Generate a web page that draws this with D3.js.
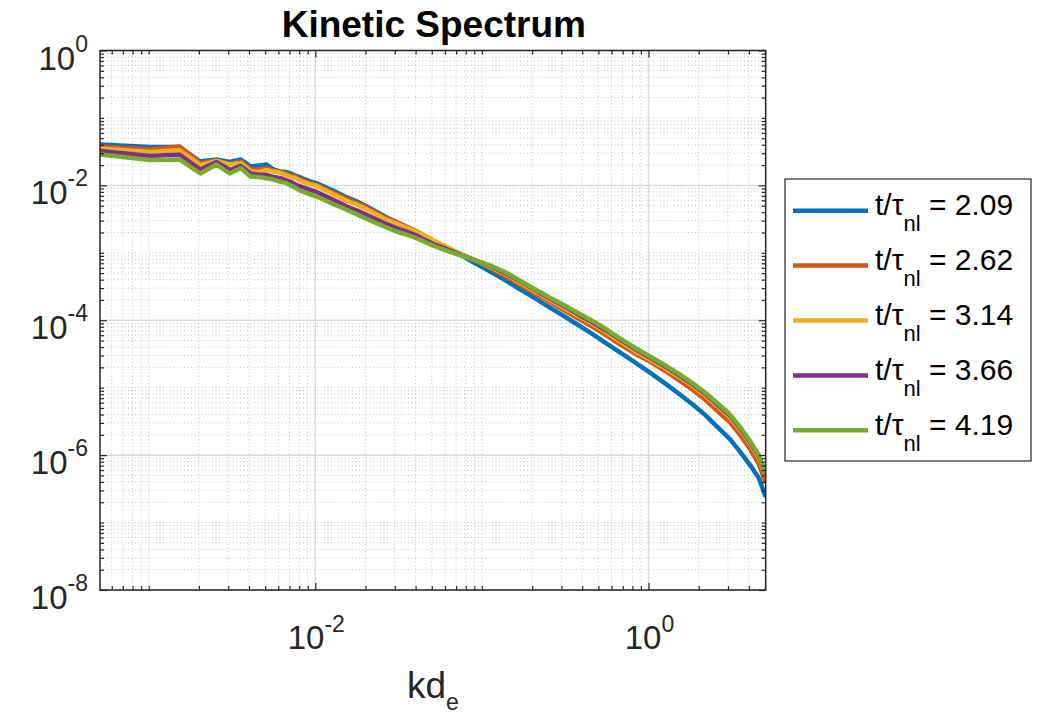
<!DOCTYPE html>
<html>
<head>
<meta charset="utf-8">
<script src="https://cdn.jsdelivr.net/npm/d3@7"></script>
<style>
  body { margin: 0; background: #fff; }
  text { font-family: "Liberation Sans", Arial, Helvetica, sans-serif; fill: #262626; }
</style>
</head>
<body>
<div id="chart"></div>
<script>
// wavenumber k d_e (k = n * kmin)
const k = [0.00051, 0.00102, 0.00153, 0.00204, 0.00255, 0.00306, 0.00357, 0.00408, 0.00459, 0.0051,
  0.00561, 0.00612, 0.00663, 0.00714, 0.00765, 0.00816, 0.00918, 0.0102, 0.01275, 0.0153,
  0.01785, 0.0204, 0.0255, 0.0306, 0.0357, 0.0408, 0.051, 0.0612, 0.0765, 0.0918,
  0.1122, 0.1377, 0.1683, 0.204, 0.255, 0.306, 0.3825, 0.459, 0.561, 0.6885,
  0.8415, 1.02, 1.275, 1.53, 1.836, 2.193, 2.55, 3.06, 3.57, 4.08, 4.59, 5.049]

// kinetic energy spectra, one per time
const E_209 = [0.0404, 0.0371, 0.0371, 0.0226, 0.0242, 0.0222, 0.0242, 0.0191, 0.0197, 0.0204,
  0.0172, 0.0161, 0.0158, 0.0150, 0.0138, 0.0131, 0.0116, 0.0107, 8.40e-3, 6.72e-3,
  5.77e-3, 4.86e-3, 3.58e-3, 2.86e-3, 2.37e-3, 2.04e-3, 1.50e-3, 1.18e-3, 8.97e-4, 6.94e-4,
  5.28e-4, 3.95e-4, 2.91e-4, 2.18e-4, 1.55e-4, 1.18e-4, 8.36e-5, 6.26e-5, 4.52e-5, 3.24e-5,
  2.32e-5, 1.67e-5, 1.13e-5, 8.04e-6, 5.67e-6, 3.92e-6, 2.72e-6, 1.76e-6, 1.10e-6, 7.07e-7, 4.58e-7, 2.39e-7]
const E_262 = [0.0377, 0.0340, 0.0377, 0.0215, 0.0234, 0.0207, 0.0226, 0.0175, 0.0172, 0.0181,
  0.0166, 0.0158, 0.0150, 0.0140, 0.0133, 0.0122, 0.0110, 0.0101, 7.84e-3, 6.39e-3,
  5.48e-3, 4.70e-3, 3.46e-3, 2.86e-3, 2.41e-3, 2.07e-3, 1.52e-3, 1.22e-3, 9.28e-4, 7.69e-4,
  5.96e-4, 4.53e-4, 3.39e-4, 2.58e-4, 1.87e-4, 1.44e-4, 1.04e-4, 8.08e-5, 5.94e-5, 4.25e-5,
  3.14e-5, 2.44e-5, 1.73e-5, 1.28e-5, 9.34e-6, 6.61e-6, 4.70e-6, 3.13e-6, 1.94e-6, 1.22e-6, 7.39e-7, 3.86e-7]
const E_314 = [0.0352, 0.0313, 0.0335, 0.0200, 0.0230, 0.0204, 0.0215, 0.0163, 0.0158, 0.0169,
  0.0161, 0.0155, 0.0143, 0.0133, 0.0127, 0.0116, 0.0105, 9.79e-3, 7.45e-3, 5.97e-3,
  5.12e-3, 4.39e-3, 3.28e-3, 2.72e-3, 2.33e-3, 2.04e-3, 1.52e-3, 1.22e-3, 9.28e-4, 7.69e-4,
  6.16e-4, 4.85e-4, 3.63e-4, 2.76e-4, 2.00e-4, 1.55e-4, 1.14e-4, 8.95e-5, 6.58e-5, 4.71e-5,
  3.44e-5, 2.62e-5, 1.91e-5, 1.43e-5, 1.06e-5, 7.61e-6, 5.48e-6, 3.70e-6, 2.30e-6, 1.45e-6, 9.07e-7, 4.74e-7]
const E_366 = [0.0323, 0.0273, 0.0287, 0.0172, 0.0222, 0.0169, 0.0194, 0.0150, 0.0145, 0.0143,
  0.0133, 0.0129, 0.0120, 0.0112, 0.0103, 9.63e-3, 8.69e-3, 7.98e-3, 6.17e-3, 4.95e-3,
  4.24e-3, 3.64e-3, 2.82e-3, 2.33e-3, 2.04e-3, 1.78e-3, 1.35e-3, 1.14e-3, 9.13e-4, 7.69e-4,
  6.38e-4, 5.02e-4, 3.82e-4, 2.91e-4, 2.10e-4, 1.66e-4, 1.20e-4, 9.42e-5, 7.00e-5, 5.01e-5,
  3.66e-5, 2.79e-5, 2.03e-5, 1.52e-5, 1.13e-5, 8.09e-6, 5.83e-6, 3.94e-6, 2.45e-6, 1.54e-6, 9.65e-7, 5.08e-7]
const E_419 = [0.0287, 0.0238, 0.0242, 0.0150, 0.0204, 0.0150, 0.0181, 0.0135, 0.0133, 0.0127,
  0.0122, 0.0114, 0.0109, 9.96e-3, 9.14e-3, 8.26e-3, 7.45e-3, 6.84e-3, 5.30e-3, 4.39e-3,
  3.70e-3, 3.17e-3, 2.50e-3, 2.07e-3, 1.84e-3, 1.63e-3, 1.28e-3, 1.08e-3, 8.97e-4, 7.69e-4,
  6.49e-4, 5.20e-4, 3.89e-4, 2.96e-4, 2.18e-4, 1.71e-4, 1.26e-4, 9.85e-5, 7.29e-5, 5.22e-5,
  3.81e-5, 2.90e-5, 2.11e-5, 1.59e-5, 1.17e-5, 8.43e-6, 6.07e-6, 4.10e-6, 2.55e-6, 1.60e-6, 1.00e-6, 5.25e-7]

const timeLabels = ['2.09', '2.62', '3.14', '3.66', '4.19']
const seriesE = [E_209, E_262, E_314, E_366, E_419]
const colors = ['#0072BD', '#D95319', '#EDB120', '#7E2F8E', '#77AC30']

const xDomain = [5.1e-4, 5.05]
const yDomain = [1e-8, 1]
const xTicks = [1e-2, 1e0]
const xTickExp = ['-2', '0']
const yTicks = [1e0, 1e-2, 1e-4, 1e-6, 1e-8]
const yTickExp = ['0', '-2', '-4', '-6', '-8']

const W = 1038, H = 718
const plot = { left: 100, right: 765.7, top: 50.5, bottom: 590 }

const svg = d3.select('#chart').append('svg')
    .attr('width', W)
    .attr('height', H)
svg.append('rect').attr('width', W).attr('height', H).attr('fill', '#fff')

const x = d3.scaleLog().domain(xDomain).range([plot.left, plot.right])
const y = d3.scaleLog().domain(yDomain).range([plot.bottom, plot.top])

const isMajor = (list, t) => list.some(m => Math.abs(Math.log10(m / t)) < 1e-6)
const minorX = x.ticks().filter(t => !isMajor(xTicks, t))
const minorY = y.ticks().filter(t => !isMajor(yTicks, t))

// grid
const grid = svg.append('g')
grid.selectAll('.gxm').data(minorX).enter().append('line')
    .attr('x1', d => x(d)).attr('x2', d => x(d))
    .attr('y1', plot.top).attr('y2', plot.bottom)
    .attr('stroke', '#c4c4c4').attr('stroke-width', 1).attr('stroke-dasharray', '1,2.5')
grid.selectAll('.gym').data(minorY).enter().append('line')
    .attr('x1', plot.left).attr('x2', plot.right)
    .attr('y1', d => y(d)).attr('y2', d => y(d))
    .attr('stroke', '#c4c4c4').attr('stroke-width', 1).attr('stroke-dasharray', '1,2.5')
grid.selectAll('.gx').data(xTicks).enter().append('line')
    .attr('x1', d => x(d)).attr('x2', d => x(d))
    .attr('y1', plot.top).attr('y2', plot.bottom)
    .attr('stroke', '#dcdcdc').attr('stroke-width', 1.5)
grid.selectAll('.gy').data(yTicks).enter().append('line')
    .attr('x1', plot.left).attr('x2', plot.right)
    .attr('y1', d => y(d)).attr('y2', d => y(d))
    .attr('stroke', '#dcdcdc').attr('stroke-width', 1.5)

// spectra
svg.append('clipPath').attr('id', 'clip')
    .append('rect')
    .attr('x', plot.left).attr('y', plot.top)
    .attr('width', plot.right - plot.left).attr('height', plot.bottom - plot.top)

const line = d3.line()
    .x((d, i) => x(k[i]))
    .y(d => y(d))

svg.append('g').attr('clip-path', 'url(#clip)')
    .selectAll('path')
    .data(seriesE).enter()
    .append('path')
    .attr('d', line)
    .attr('fill', 'none')
    .attr('stroke', (d, i) => colors[i])
    .attr('stroke-width', 4.5)
    .attr('stroke-linejoin', 'round')

// ticks, inward on all four sides
const tickStyle = g => {
    g.select('.domain').remove()
    g.selectAll('line').attr('stroke', '#262626').attr('stroke-width', 1.2)
}
svg.append('g').attr('transform', `translate(0,${plot.bottom})`)
    .call(d3.axisBottom(x).tickValues(xTicks).tickSize(-7).tickFormat(''))
    .call(tickStyle)
svg.append('g').attr('transform', `translate(0,${plot.bottom})`)
    .call(d3.axisBottom(x).tickValues(minorX).tickSize(-4).tickFormat(''))
    .call(tickStyle)
svg.append('g').attr('transform', `translate(0,${plot.top})`)
    .call(d3.axisTop(x).tickValues(xTicks).tickSize(-7).tickFormat(''))
    .call(tickStyle)
svg.append('g').attr('transform', `translate(0,${plot.top})`)
    .call(d3.axisTop(x).tickValues(minorX).tickSize(-4).tickFormat(''))
    .call(tickStyle)
svg.append('g').attr('transform', `translate(${plot.left},0)`)
    .call(d3.axisLeft(y).tickValues(yTicks).tickSize(-7).tickFormat(''))
    .call(tickStyle)
svg.append('g').attr('transform', `translate(${plot.left},0)`)
    .call(d3.axisLeft(y).tickValues(minorY).tickSize(-4).tickFormat(''))
    .call(tickStyle)
svg.append('g').attr('transform', `translate(${plot.right},0)`)
    .call(d3.axisRight(y).tickValues(yTicks).tickSize(-7).tickFormat(''))
    .call(tickStyle)
svg.append('g').attr('transform', `translate(${plot.right},0)`)
    .call(d3.axisRight(y).tickValues(minorY).tickSize(-4).tickFormat(''))
    .call(tickStyle)

// box
svg.append('rect')
    .attr('x', plot.left).attr('y', plot.top)
    .attr('width', plot.right - plot.left).attr('height', plot.bottom - plot.top)
    .attr('fill', 'none').attr('stroke', '#262626').attr('stroke-width', 1.5)

// tick labels 10^n
const yl = svg.append('g').selectAll('text').data(yTicks).enter().append('text')
    .attr('x', 88).attr('y', d => y(d) + 19)
    .attr('text-anchor', 'end')
    .style('font-size', '33px')
yl.append('tspan').text('10')
yl.append('tspan').attr('dy', -18).style('font-size', '23px').text((d, i) => yTickExp[i])

const xl = svg.append('g').selectAll('text').data(xTicks).enter().append('text')
    .attr('x', d => x(d) + 1).attr('y', 649)
    .attr('text-anchor', 'middle')
    .style('font-size', '33px')
xl.append('tspan').text('10')
xl.append('tspan').attr('dy', -17).style('font-size', '23px').text((d, i) => xTickExp[i])

// title and x label
svg.append('text')
    .attr('x', (plot.left + plot.right) / 2 + 1).attr('y', 37)
    .attr('text-anchor', 'middle')
    .style('font-size', '37px').style('font-weight', 'bold').style('fill', '#000')
    .text('Kinetic Spectrum')

const xlab = svg.append('text')
    .attr('x', (plot.left + plot.right) / 2).attr('y', 698)
    .attr('text-anchor', 'middle')
    .style('font-size', '37px')
xlab.append('tspan').text('kd')
xlab.append('tspan').attr('dy', 12).style('font-size', '23px').text('e')

// legend
const legend = svg.append('g')
legend.append('rect')
    .attr('x', 785).attr('y', 179).attr('width', 246).attr('height', 282)
    .attr('fill', '#fff').attr('stroke', '#262626').attr('stroke-width', 1.2)

const entry = legend.selectAll('.entry').data(timeLabels).enter().append('g')
    .attr('transform', (d, i) => `translate(0,${210.7 + i * 54.9})`)
entry.append('line')
    .attr('x1', 793).attr('x2', 868)
    .attr('stroke', (d, i) => colors[i]).attr('stroke-width', 4.5)
const lt = entry.append('text')
    .attr('x', 875).attr('y', 4.5)
    .style('font-size', '30px').style('fill', '#000')
lt.append('tspan').text('t/')
lt.append('tspan').text('τ')
lt.append('tspan').attr('dy', 16).style('font-size', '22px').text('nl')
lt.append('tspan').attr('dy', -16).text(d => ` = ${d}`)
</script>
</body>
</html>
